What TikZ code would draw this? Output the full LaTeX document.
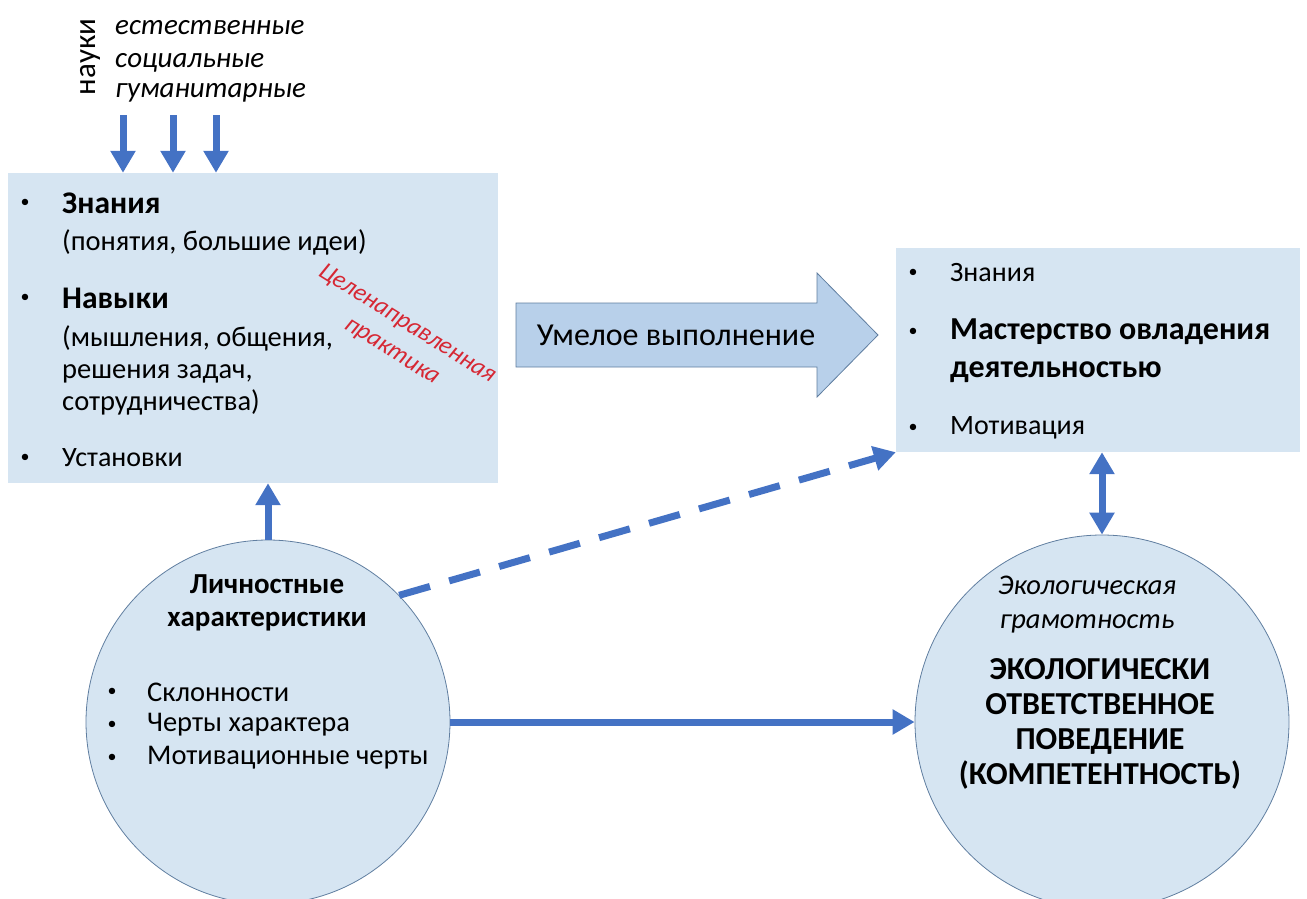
\documentclass[tikz,border=0pt]{standalone}
\usepackage{fontspec}
\setmainfont{Carlito}
\usetikzlibrary{arrows.meta,positioning}
\definecolor{boxblue}{RGB}{214,229,242}
\definecolor{edgeblue}{RGB}{96,126,160}
\definecolor{linkblue}{RGB}{68,114,196}
\definecolor{arrowfill}{RGB}{184,208,234}
\definecolor{practred}{RGB}{214,40,52}
\newcommand{\fs}[2]{\fontsize{#1}{#2}\selectfont}

\begin{document}
\begin{tikzpicture}[x=1pt,y=-1pt,
  box/.style={fill=boxblue,draw=none,inner sep=0pt},
  disc/.style={circle,fill=boxblue,draw=edgeblue,line width=0.8pt,inner sep=0pt},
  link/.style={draw=linkblue,line width=7pt,-{Triangle[length=22pt,width=24pt]}},
  item/.style={anchor=west,inner sep=0pt,align=left},
  dot/.style={inner sep=0pt,font=\fs{18}{20}},
  prac/.style={rotate=-32,inner sep=0pt,text=practred,font=\fs{25}{32}\itshape}]
\useasboundingbox (0,0) rectangle (1307,898);

% boxes and circles
\node[box,minimum width=490pt,minimum height=310pt] (kbox) at (253,328) {};
\node[box,minimum width=404pt,minimum height=204pt] (rbox) at (1098,350) {};
\node[disc,minimum size=364pt] (lc) at (268,722) {};
\node[disc,minimum size=374pt] (rc) at (1102,722) {};

% sciences
\node[rotate=90,inner sep=0pt,font=\fs{31}{30}] (sci) at (90,57) {науки};
\node[item,font=\fs{29}{30}\itshape] (nat) at (115,28) {естественные};
\node[item,font=\fs{29}{30}\itshape] (soc) at (115,63) {социальные};
\node[item,font=\fs{29}{30}\itshape] (hum) at (115,93) {гуманитарные};
\coordinate (a1) at (123,115);
\coordinate (a2) at (173,115);
\coordinate (a3) at (216,115);
\foreach \a in {a1,a2,a3}
  \draw[link] (\a) -- (\a |- kbox.north);

% left box
\node[dot] (k1b) at (25,203) {•};
\node[item,font=\fs{31.5}{32}\bfseries] (k1) at (62,203) {Знания};
\node[item,font=\fs{28.5}{32}] (k1t) at (62,242) {(понятия, большие идеи)};
\node[dot] (k2b) at (25,298) {•};
\node[item,font=\fs{31.5}{32}\bfseries] (k2) at (62,298) {Навыки};
\node[item,font=\fs{28.5}{32}] (k2t) at (62,370) {(мышления, общения,\\решения задач,\\сотрудничества)};
\node[dot] (k3b) at (25,458) {•};
\node[item,font=\fs{28}{30}] (k3) at (62,458) {Установки};
\node[prac] (prac1) at (407,324) {Целенаправленная};
\node[prac] (prac2) at (391,353) {практика};

% performance arrow
\draw[draw=edgeblue,fill=arrowfill,line width=0.8pt] (516,303) -- (817,303) -- (817,273) -- (878,335)
  -- (817,397) -- (817,367) -- (516,367) -- cycle;
\node[inner sep=0pt,font=\fs{32}{32}] (perf) at (676,335) {Умелое выполнение};

% right box
\node[dot] (r1b) at (913,273) {•};
\node[item,font=\fs{28}{30}] (r1) at (950,273) {Знания};
\node[dot] (r2b) at (913,332) {•};
\node[item,font=\fs{32}{38}\bfseries] (r2) at (950,351) {Мастерство овладения\\деятельностью};
\node[dot] (r3b) at (913,428) {•};
\node[item,font=\fs{28}{30}] (r3) at (950,428) {Мотивация};

% left circle
\node[inner sep=0pt,align=center,font=\fs{29}{33}\bfseries] (pers) at (267,603) {Личностные\\характеристики};
\node[dot] (p1b) at (112,692) {•};
\node[item,font=\fs{28.5}{33}] (p1) at (147,692) {Склонности};
\node[dot] (p2b) at (112,725) {•};
\node[item,font=\fs{28.5}{33}] (p2) at (147,725) {Черты характера};
\node[dot] (p3b) at (112,758) {•};
\node[item,font=\fs{28.5}{33}] (p3) at (147,758) {Мотивационные черты};

% right circle
\node[inner sep=0pt,align=center,font=\fs{28.5}{34}\itshape] (lit) at (1087,605) {Экологическая\\грамотность};
\node[inner sep=0pt,align=center,font=\fs{32}{35}\bfseries] (resp) at (1100,724) {ЭКОЛОГИЧЕСКИ\\ОТВЕТСТВЕННОЕ\\ПОВЕДЕНИЕ\\(КОМПЕТЕНТНОСТЬ)};

% connectors
\draw[link] (lc.north) -- (lc.north |- kbox.south);
\draw[link,dash pattern=on 32pt off 20pt] (lc.44) -- (rbox.south west);
\draw[link] (lc.east) -- (rc.west);
\draw[link,{Triangle[length=22pt,width=24pt]}-{Triangle[length=22pt,width=24pt]}] (rc.north |- rbox.south) -- (rc.north);
\end{tikzpicture}
\end{document}
